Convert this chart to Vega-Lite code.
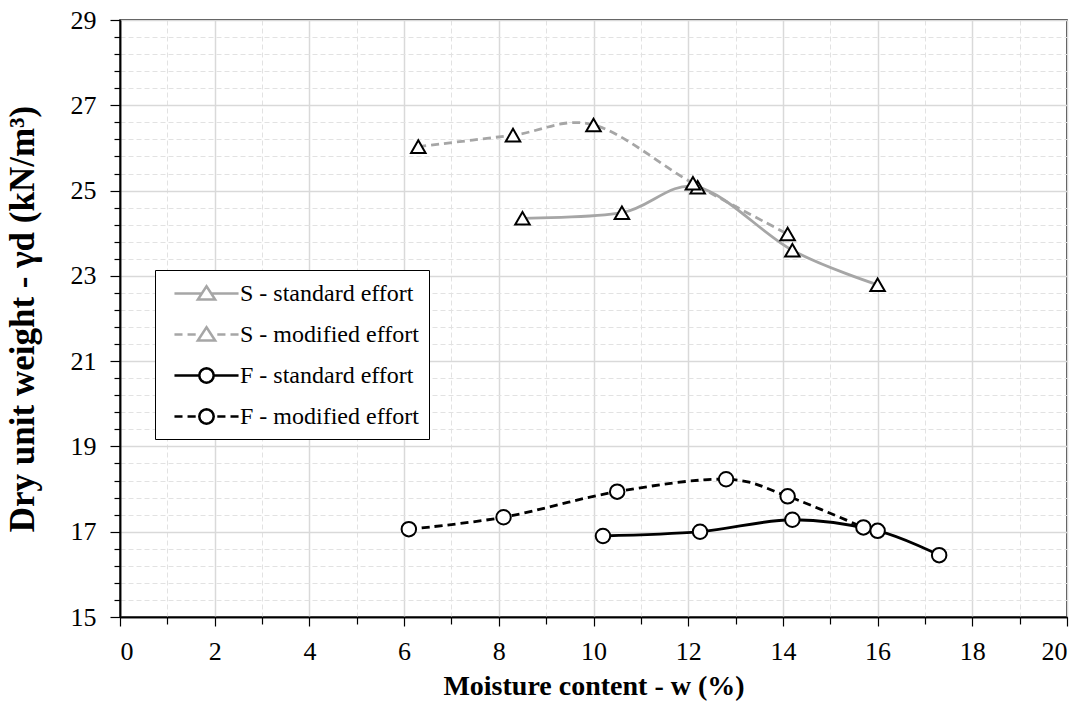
{
  "$schema": "https://vega.github.io/schema/vega-lite/v6.json",
  "width": 947,
  "height": 597,
  "autosize": {"type": "none"},
  "padding": {"left": 120, "top": 20, "right": 20, "bottom": 92},
  "background": "white",
  "config": {
    "font": "Liberation Serif",
    "view": {"stroke": "black", "strokeWidth": 1.5},
    "axis": {
      "labelFont": "Liberation Serif",
      "titleFont": "Liberation Serif",
      "labelColor": "black",
      "titleColor": "black",
      "domainColor": "black",
      "domainWidth": 1.5,
      "tickColor": "black",
      "tickWidth": 1.2
    }
  },
  "data": {
    "values": [
      {"series": "S - standard effort", "soil": "S", "effort": "standard", "w": 8.5, "gd": 24.35},
      {"series": "S - standard effort", "soil": "S", "effort": "standard", "w": 10.6, "gd": 24.48},
      {"series": "S - standard effort", "soil": "S", "effort": "standard", "w": 12.2, "gd": 25.08},
      {"series": "S - standard effort", "soil": "S", "effort": "standard", "w": 14.2, "gd": 23.6},
      {"series": "S - standard effort", "soil": "S", "effort": "standard", "w": 16.0, "gd": 22.79},
      {"series": "S - modified effort", "soil": "S", "effort": "modified", "w": 6.3, "gd": 26.03},
      {"series": "S - modified effort", "soil": "S", "effort": "modified", "w": 8.3, "gd": 26.3},
      {"series": "S - modified effort", "soil": "S", "effort": "modified", "w": 10.0, "gd": 26.54},
      {"series": "S - modified effort", "soil": "S", "effort": "modified", "w": 12.1, "gd": 25.17},
      {"series": "S - modified effort", "soil": "S", "effort": "modified", "w": 14.1, "gd": 23.98},
      {"series": "F - standard effort", "soil": "F", "effort": "standard", "w": 10.2, "gd": 16.9},
      {"series": "F - standard effort", "soil": "F", "effort": "standard", "w": 12.25, "gd": 17.0},
      {"series": "F - standard effort", "soil": "F", "effort": "standard", "w": 14.2, "gd": 17.28},
      {"series": "F - standard effort", "soil": "F", "effort": "standard", "w": 16.0, "gd": 17.02},
      {"series": "F - standard effort", "soil": "F", "effort": "standard", "w": 17.3, "gd": 16.45},
      {"series": "F - modified effort", "soil": "F", "effort": "modified", "w": 6.1, "gd": 17.06},
      {"series": "F - modified effort", "soil": "F", "effort": "modified", "w": 8.1, "gd": 17.34},
      {"series": "F - modified effort", "soil": "F", "effort": "modified", "w": 10.5, "gd": 17.94},
      {"series": "F - modified effort", "soil": "F", "effort": "modified", "w": 12.8, "gd": 18.23},
      {"series": "F - modified effort", "soil": "F", "effort": "modified", "w": 14.1, "gd": 17.83},
      {"series": "F - modified effort", "soil": "F", "effort": "modified", "w": 15.7, "gd": 17.1}
    ]
  },
  "layer": [
    {
      "transform": [{"filter": "datum.effort === 'standard'"}],
      "mark": {"type": "line", "interpolate": "cardinal", "tension": 0, "strokeWidth": 2.8},
      "encoding": {
        "x": {
          "field": "w", "type": "quantitative",
          "scale": {"domain": [0, 20], "nice": false, "zero": false},
          "axis": {
            "orient": "bottom", "title": null, "labels": false,
            "values": [1, 3, 5, 7, 9, 11, 13, 15, 17, 19],
            "tickSize": 7, "grid": true, "gridColor": "#e2e2e2", "gridDash": [5, 3], "gridWidth": 1
          }
        },
        "y": {
          "field": "gd", "type": "quantitative",
          "scale": {"domain": [15, 29], "nice": false, "zero": false},
          "axis": {
            "orient": "left", "title": null, "labels": false,
            "values": [15.4, 15.8, 16.2, 16.6, 17.4, 17.8, 18.2, 18.6, 19.4, 19.8, 20.2, 20.6, 21.4, 21.8, 22.2, 22.6, 23.4, 23.8, 24.2, 24.6, 25.4, 25.8, 26.2, 26.6, 27.4, 27.8, 28.2, 28.6],
            "tickSize": 6, "grid": true, "gridColor": "#e2e2e2", "gridDash": [5, 3], "gridWidth": 1
          }
        },
        "color": {
          "field": "series", "type": "nominal",
          "scale": {
            "domain": ["S - standard effort", "S - modified effort", "F - standard effort", "F - modified effort"],
            "range": ["#a6a6a6", "#a6a6a6", "black", "black"]
          },
          "legend": {
            "orient": "none", "direction": "vertical", "legendX": 35, "legendY": 250, "title": null,
            "symbolType": "M-2.67,0L2.67,0", "symbolSize": 576, "symbolStrokeWidth": 2.5, "symbolOffset": 28,
            "labelFont": "Liberation Serif", "labelFontSize": 24, "labelColor": "black", "labelOffset": 20, "labelLimit": 0,
            "rowPadding": 15, "padding": 10, "strokeColor": "black", "fillColor": "white",
            "encode": {
              "symbols": {
                "update": {
                  "shape": {"signal": "datum.value === 'S - standard effort' ? 'M-2.67,0L-0.4,0M0.4,0L2.67,0M0,-0.6L0.72,0.5L-0.72,0.5Z' : datum.value === 'S - modified effort' ? 'M-2.67,0L-2,0M-1.58,0L-0.9,0M0.9,0L1.58,0M2,0L2.67,0M0,-0.6L0.72,0.5L-0.72,0.5Z' : datum.value === 'F - standard effort' ? 'M-2.67,0L-0.6,0M0.6,0L2.67,0M0.6,0L0.554,0.23L0.424,0.424L0.23,0.554L0,0.6L-0.23,0.554L-0.424,0.424L-0.554,0.23L-0.6,0L-0.554,-0.23L-0.424,-0.424L-0.23,-0.554L0,-0.6L0.23,-0.554L0.424,-0.424L0.554,-0.23Z' : 'M-2.67,0L-2,0M-1.58,0L-0.9,0M0.9,0L1.58,0M2,0L2.67,0M0.6,0L0.554,0.23L0.424,0.424L0.23,0.554L0,0.6L-0.23,0.554L-0.424,0.424L-0.554,0.23L-0.6,0L-0.554,-0.23L-0.424,-0.424L-0.23,-0.554L0,-0.6L0.23,-0.554L0.424,-0.424L0.554,-0.23Z'"},
                  "fill": {"value": "white"},
                  "strokeWidth": {"value": 2.5},
                  "opacity": {"value": 1}
                }
              }
            }
          }
        }
      }
    },
    {
      "transform": [{"filter": "datum.effort === 'modified'"}],
      "mark": {"type": "line", "interpolate": "cardinal", "tension": 0, "strokeWidth": 2.8, "strokeDash": [8, 5]},
      "encoding": {
        "x": {"field": "w", "type": "quantitative", "axis": null},
        "y": {"field": "gd", "type": "quantitative", "axis": null},
        "color": {
          "field": "series", "type": "nominal",
          "scale": {
            "domain": ["S - standard effort", "S - modified effort", "F - standard effort", "F - modified effort"],
            "range": ["#a6a6a6", "#a6a6a6", "black", "black"]
          },
          "legend": {
            "orient": "none", "direction": "vertical", "legendX": 35, "legendY": 250, "title": null,
            "symbolType": "M-2.67,0L2.67,0", "symbolSize": 576, "symbolStrokeWidth": 2.5, "symbolOffset": 28,
            "labelFont": "Liberation Serif", "labelFontSize": 24, "labelColor": "black", "labelOffset": 20, "labelLimit": 0,
            "rowPadding": 15, "padding": 10, "strokeColor": "black", "fillColor": "white",
            "encode": {
              "symbols": {
                "update": {
                  "shape": {"signal": "datum.value === 'S - standard effort' ? 'M-2.67,0L-0.4,0M0.4,0L2.67,0M0,-0.6L0.72,0.5L-0.72,0.5Z' : datum.value === 'S - modified effort' ? 'M-2.67,0L-2,0M-1.58,0L-0.9,0M0.9,0L1.58,0M2,0L2.67,0M0,-0.6L0.72,0.5L-0.72,0.5Z' : datum.value === 'F - standard effort' ? 'M-2.67,0L-0.6,0M0.6,0L2.67,0M0.6,0L0.554,0.23L0.424,0.424L0.23,0.554L0,0.6L-0.23,0.554L-0.424,0.424L-0.554,0.23L-0.6,0L-0.554,-0.23L-0.424,-0.424L-0.23,-0.554L0,-0.6L0.23,-0.554L0.424,-0.424L0.554,-0.23Z' : 'M-2.67,0L-2,0M-1.58,0L-0.9,0M0.9,0L1.58,0M2,0L2.67,0M0.6,0L0.554,0.23L0.424,0.424L0.23,0.554L0,0.6L-0.23,0.554L-0.424,0.424L-0.554,0.23L-0.6,0L-0.554,-0.23L-0.424,-0.424L-0.23,-0.554L0,-0.6L0.23,-0.554L0.424,-0.424L0.554,-0.23Z'"},
                  "fill": {"value": "white"},
                  "strokeWidth": {"value": 2.5},
                  "opacity": {"value": 1}
                }
              }
            }
          }
        }
      }
    },
    {
      "transform": [{"filter": "datum.soil === 'S'"}],
      "mark": {"type": "point", "shape": "triangle-up", "filled": false, "fill": "white", "stroke": "black", "strokeWidth": 2, "size": 210, "opacity": 1},
      "encoding": {
        "x": {
          "field": "w", "type": "quantitative",
          "scale": {"domain": [0, 20], "nice": false, "zero": false},
          "axis": {
            "orient": "bottom", "title": "Moisture content - w (%)",
            "values": [0, 2, 4, 6, 8, 10, 12, 14, 16, 18, 20],
            "labelFontSize": 26, "tickSize": 9, "labelPadding": 12,
            "titleFontSize": 28, "titleFontWeight": "bold", "titlePadding": 8,
            "grid": true, "gridColor": "#d9d9d9", "gridWidth": 1.5
          }
        },
        "y": {
          "field": "gd", "type": "quantitative",
          "scale": {"domain": [15, 29], "nice": false, "zero": false},
          "axis": {
            "orient": "left", "title": "Dry unit weight - γd (kN/m³)",
            "values": [15, 17, 19, 21, 23, 25, 27, 29],
            "labelFontSize": 26, "tickSize": 10, "labelPadding": 14,
            "titleFontSize": 35, "titleFontWeight": "bold", "titlePadding": 30,
            "grid": true, "gridColor": "#d9d9d9", "gridWidth": 1.5
          }
        }
      }
    },
    {
      "transform": [{"filter": "datum.soil === 'F'"}],
      "mark": {"type": "point", "shape": "circle", "filled": false, "fill": "white", "stroke": "black", "strokeWidth": 2, "size": 210, "opacity": 1},
      "encoding": {
        "x": {"field": "w", "type": "quantitative", "axis": null},
        "y": {"field": "gd", "type": "quantitative", "axis": null}
      }
    }
  ],
  "resolve": {
    "axis": {"x": "independent", "y": "independent"}
  }
}
